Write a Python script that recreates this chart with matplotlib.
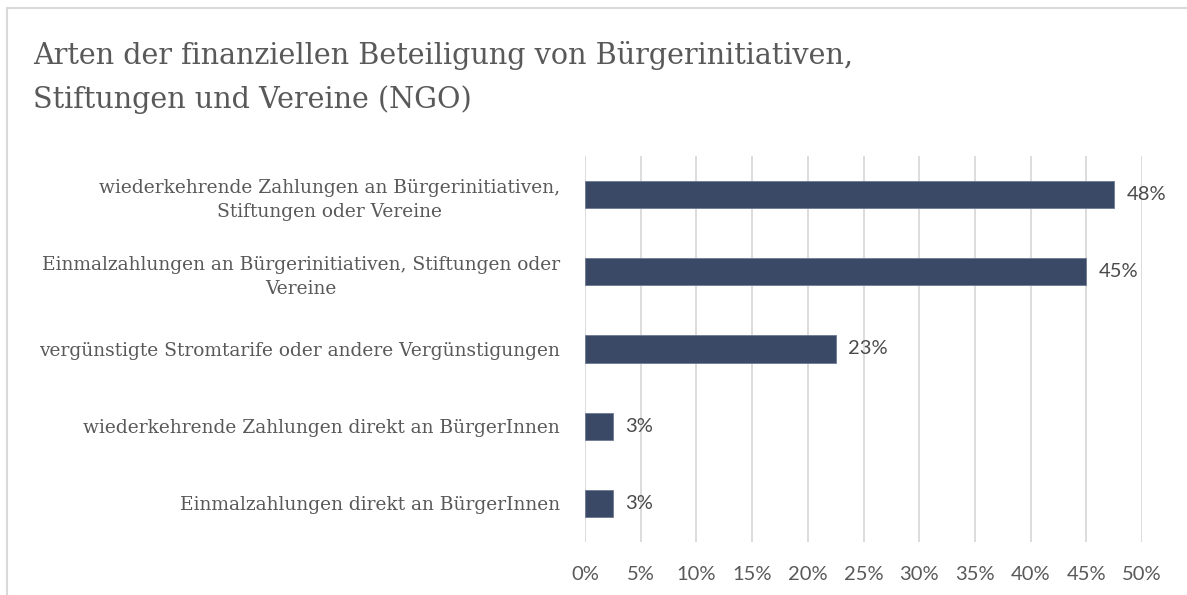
import matplotlib.pyplot as plt
from matplotlib.patches import Rectangle
from matplotlib.ticker import PercentFormatter

categories = [
    "wiederkehrende Zahlungen an Bürgerinitiativen,\nStiftungen oder Vereine",
    "Einmalzahlungen an Bürgerinitiativen, Stiftungen oder\nVereine",
    "vergünstigte Stromtarife oder andere Vergünstigungen",
    "wiederkehrende Zahlungen direkt an BürgerInnen",
    "Einmalzahlungen direkt an BürgerInnen",
]
values = [47.5, 45.0, 22.5, 2.5, 2.5]
value_labels = ["48%", "45%", "23%", "3%", "3%"]
ticks = [0, 5, 10, 15, 20, 25, 30, 35, 40, 45, 50]
title_lines = ["Arten der finanziellen Beteiligung von Bürgerinitiativen,",
               "Stiftungen und Vereine (NGO)"]

W, H = 1187, 595
fig = plt.figure(figsize=(W / 100, H / 100), dpi=100)
fig.patches.append(Rectangle((7 / W, -0.1), 1.2, 1 - 8 / H + 0.1, transform=fig.transFigure,
                             fill=False, edgecolor="#d9d9d9", linewidth=1.5))

ax = fig.add_axes([585 / W, 1 - 542 / H, (1142 - 585) / W, (542 - 156) / H])
grey = "#595959"
serif = "DejaVu Serif"
sans = ["Lato", "DejaVu Sans"]

y = list(range(len(categories)))
ax.barh(y, values, height=0.35, color="#3a4a66", edgecolor="#6b7a92", linewidth=0.6, zorder=3)
ax.set_ylim(len(categories) - 0.5, -0.5)
ax.set_xlim(0, 50)
ax.set_xticks(ticks)
ax.xaxis.set_major_formatter(PercentFormatter(decimals=0))
ax.grid(axis="x", color="#d9d9d9", linewidth=1.3, zorder=0)
for s in ax.spines.values():
    s.set_visible(False)
ax.tick_params(length=0)
ax.tick_params(axis="x", pad=17, labelcolor=grey)
for t in ax.get_xticklabels():
    t.set_fontfamily(sans)
    t.set_fontsize(14.5)

ax.set_yticks(y)
ax.set_yticklabels(categories, fontfamily=serif, fontsize=13.4, color=grey,
                   multialignment="center", linespacing=1.45)
ax.tick_params(axis="y", pad=18)

for yi, v, lab in zip(y, values, value_labels):
    ax.annotate(lab, (v, yi), xytext=(9, 0), textcoords="offset points",
                va="center", ha="left", fontsize=14.5, color="#4a4a4a", family=sans)

for i, line in enumerate(title_lines):
    fig.text(33 / W, 1 - (55 + 45 * i) / H, line, fontfamily=serif, fontsize=20.6,
             color=grey, va="center", ha="left")

fig.savefig("out.png", dpi=100)
